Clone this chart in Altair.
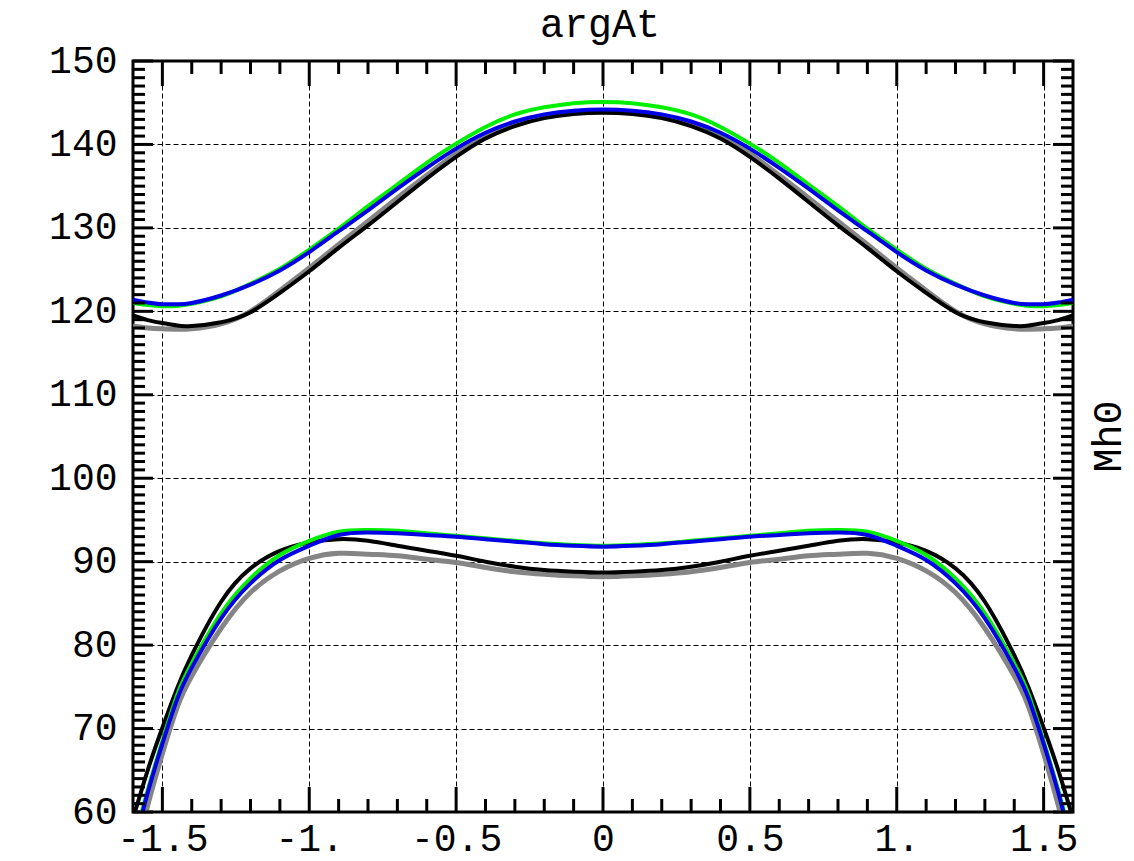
import json
import altair as alt
import pandas as pd

# Sample positions (right half); curves are symmetric in x
x_half = [0.0, 0.1, 0.2, 0.3, 0.4, 0.5, 0.6, 0.7, 0.8, 0.9, 1.0,
          1.1, 1.2, 1.3, 1.4, 1.45, 1.5, 1.55, 1.6]

# Upper branch of Mh0
green_upper = [145.1, 144.95, 144.45, 143.6, 142.1, 140.1, 137.8, 135.2, 132.6, 129.9, 127.4,
               125.1, 123.3, 121.8, 120.9, 120.65, 120.6, 120.75, 121.0]
blue_upper = [144.2, 144.05, 143.6, 142.75, 141.4, 139.5, 137.2, 134.7, 132.1, 129.6, 127.1,
              124.9, 123.2, 121.9, 121.0, 120.85, 120.85, 121.05, 121.4]
black_upper = [143.8, 143.65, 143.15, 142.2, 140.7, 138.5, 135.9, 133.1, 130.3, 127.6, 124.8,
               122.2, 119.9, 118.7, 118.25, 118.3, 118.6, 118.95, 119.5]
gray_upper = [144.0, 143.85, 143.35, 142.5, 141.0, 138.9, 136.3, 133.6, 130.8, 128.0, 125.2,
              122.5, 120.0, 118.5, 117.9, 117.85, 117.9, 118.0, 118.2]

# Lower branch of Mh0
green_lower = [91.9, 92.0, 92.2, 92.5, 92.8, 93.1, 93.4, 93.7, 93.8, 93.6, 92.5,
               90.8, 88.0, 83.8, 77.8, 74.0, 68.5, 62.6, 56.0]
blue_lower = [91.8, 91.9, 92.1, 92.4, 92.7, 93.0, 93.2, 93.4, 93.5, 93.2, 91.9,
              90.2, 87.4, 83.2, 77.3, 73.5, 68.2, 62.3, 55.5]
black_lower = [88.7, 88.8, 89.0, 89.4, 90.0, 90.7, 91.3, 91.9, 92.5, 92.7, 92.3,
               91.3, 89.2, 85.2, 78.8, 74.8, 70.1, 65.0, 59.2]
gray_lower = [88.2, 88.3, 88.5, 88.8, 89.3, 89.9, 90.3, 90.7, 90.9, 91.0, 90.4,
              88.9, 86.3, 82.0, 76.3, 72.5, 67.0, 60.8, 54.0]

series_colors = {"gray": "#858585", "black": "#000000", "green": "#00f000", "blue": "#0000e6"}
series_widths = {"gray": 5, "black": 4, "green": 4, "blue": 4}
series_data = {
    "gray": (gray_upper, gray_lower),
    "black": (black_upper, black_lower),
    "green": (green_upper, green_lower),
    "blue": (blue_upper, blue_lower),
}

x_major = [-1.5, -1.0, -0.5, 0.0, 0.5, 1.0, 1.5]
x_labels = ["-1.5", "-1.", "-0.5", "0", "0.5", "1.", "1.5"]
y_major = [60, 70, 80, 90, 100, 110, 120, 130, 140, 150]

W, H = 940, 751
FONT = "Liberation Mono"
LABEL_SIZE = 38


def full_curve(vals):
    xs = [-x for x in reversed(x_half[1:])] + x_half
    ys = list(reversed(vals[1:])) + vals
    return xs, ys


rows = []
for name, (up, lo) in series_data.items():
    for branch, vals in (("upper", up), ("lower", lo)):
        xs, ys = full_curve(vals)
        for xv, yv in zip(xs, ys):
            rows.append({"series": name, "branch": branch, "x": xv, "Mh0": yv})
df = pd.DataFrame(rows)

xscale = alt.Scale(domain=[-1.6, 1.6], nice=False, zero=False)
yscale = alt.Scale(domain=[60, 150], nice=False, zero=False)

label_expr = f"{json.dumps(x_labels)}[indexof({json.dumps(x_major)}, datum.value)]"

x_axis = alt.Axis(values=x_major, labelExpr=label_expr, title="", ticks=False, domain=False,
                  grid=True, gridDash=[5, 3], gridColor="black", gridWidth=1, gridOpacity=1,
                  labelFont=FONT, labelFontSize=LABEL_SIZE, labelColor="black", labelPadding=8,
                  labelFlush=False, labelOverlap=False)
y_axis = alt.Axis(values=y_major, format="d", title="", ticks=False, domain=False,
                  grid=True, gridDash=[5, 3], gridColor="black", gridWidth=1, gridOpacity=1,
                  labelFont=FONT, labelFontSize=LABEL_SIZE, labelColor="black", labelPadding=16,
                  labelOverlap=False)

layers = []
for name in ["gray", "black", "green", "blue"]:
    layers.append(
        alt.Chart(df[df["series"] == name]).mark_line(
            clip=True, interpolate="natural", color=series_colors[name],
            strokeWidth=series_widths[name], strokeCap="butt", strokeJoin="round")
        .encode(
            x=alt.X("x:Q", scale=xscale, axis=x_axis),
            y=alt.Y("Mh0:Q", scale=yscale, axis=y_axis),
            detail="branch:N",
            order="x:Q",
        )
    )

# Inward tick marks on all four sides of the frame
y_minor = [v for v in range(60, 151) if v % 10 != 0]
x_all = [round(-1.5 + 0.1 * i, 1) for i in range(31)]
x_minor = [v for v in x_all if round(v * 2) != v * 2]


def yticks(vals, length, right):
    d = pd.DataFrame({"v": vals})
    x0, x1 = (W - length, W) if right else (0, length)
    return alt.Chart(d).mark_rule(color="black", strokeWidth=3).encode(
        y=alt.Y("v:Q", scale=yscale, axis=y_axis), x=alt.value(x0), x2=alt.value(x1))


def xticks(vals, length, bottom):
    d = pd.DataFrame({"v": vals})
    y0, y1 = (H - length, H) if bottom else (0, length)
    return alt.Chart(d).mark_rule(color="black", strokeWidth=3).encode(
        x=alt.X("v:Q", scale=xscale, axis=x_axis), y=alt.value(y0), y2=alt.value(y1))


for right in (False, True):
    layers.append(yticks(y_minor, 12, right))
    layers.append(yticks(y_major, 20, right))
for bottom in (False, True):
    layers.append(xticks(x_minor, 13, bottom))
    layers.append(xticks(x_major, 25, bottom))

# Plot name above the frame
title_mark = alt.Chart(pd.DataFrame({"t": ["argAt"]})).mark_text(
    font=FONT, fontSize=40, color="black", baseline="alphabetic", align="center"
).encode(text="t:N", x=alt.value(W / 2 - 3), y=alt.value(-24))
layers.append(title_mark)

# Rotated axis name on the right side
mh_label = alt.Chart(pd.DataFrame({"t": ["Mh0"]})).mark_text(
    angle=270, font=FONT, fontSize=40, color="black", baseline="middle", align="center"
).encode(text="t:N", x=alt.value(W + 36), y=alt.value(H / 2))
layers.append(mh_label)

chart = alt.layer(*layers).properties(
    width=W, height=H,
    autosize=alt.AutoSizeParams(type="none"),
    padding={"left": 133, "top": 61, "right": 61, "bottom": 49},
    background="white",
).configure_view(stroke="black", strokeWidth=3)

chart.save("out.html", embed_options={"renderer": "svg", "actions": False})
